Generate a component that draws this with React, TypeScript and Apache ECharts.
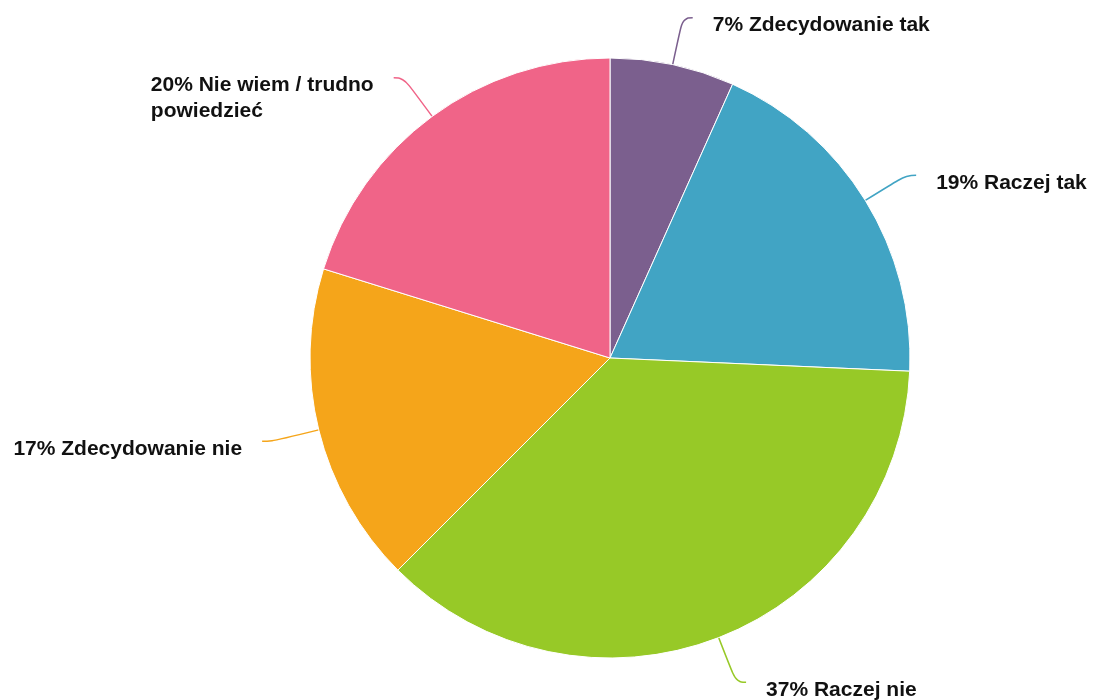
import React, { useEffect, useRef } from "react";
import * as echarts from "echarts";

const categories = [
  "Zdecydowanie tak",
  "Raczej tak",
  "Raczej nie",
  "Zdecydowanie nie",
  "Nie wiem / trudno powiedzieć",
];
const values = [6.7, 19.0, 36.8, 17.3, 20.2];
const percentLabels = ["7%", "19%", "37%", "17%", "20%"];
const colors = ["#7b5f8e", "#41a4c4", "#97c927", "#f5a51a", "#f06488"];

export default function App() {
  const ref = useRef<HTMLDivElement>(null);
  useEffect(() => {
    const chart = echarts.init(ref.current!, undefined, { renderer: "svg" });
    const font = "Liberation Sans, Arial, sans-serif";
    chart.setOption({
      animation: false,
      series: [
        {
          type: "pie",
          center: [610, 358],
          radius: 300,
          startAngle: 90,
          clockwise: true,
          avoidLabelOverlap: false,
          itemStyle: { borderColor: "#fff", borderWidth: 1 },
          label: {
            show: true,
            formatter: (p: any) => {
              const t = `${percentLabels[p.dataIndex]} ${p.name}`;
              if (p.dataIndex === 4) {
                const words = t.split(" ");
                const first = words.slice(0, 5).join(" ");
                const second = words.slice(5).join(" ");
                return `{l|${first}}\n{l|${second}}`;
              }
              return t;
            },
            fontFamily: font,
            fontWeight: "bold",
            fontSize: 21,
            color: "#111",
            lineHeight: 26,
            distanceToLabelLine: 20,
            padding: [12, 0, 0, 0],
            rich: {
              l: {
                align: "left",
                fontFamily: font,
                fontWeight: "bold",
                fontSize: 21,
                color: "#111",
                lineHeight: 26,
              },
            },
          },
          labelLine: {
            show: true,
            length: 48,
            length2: 10,
            smooth: 0.5,
            lineStyle: { width: 1.5 },
          },
          data: categories.map((c, i) => ({
            name: c,
            value: values[i],
            itemStyle: { color: colors[i] },
            ...(i === 4 ? { label: { padding: [38, 0, 0, 0] } } : {}),
          })),
        },
      ],
    });
    return () => chart.dispose();
  }, []);
  return (
    <div
      ref={ref}
      style={{ position: "fixed", left: 0, top: 0, width: 1093, height: 700 }}
    />
  );
}
